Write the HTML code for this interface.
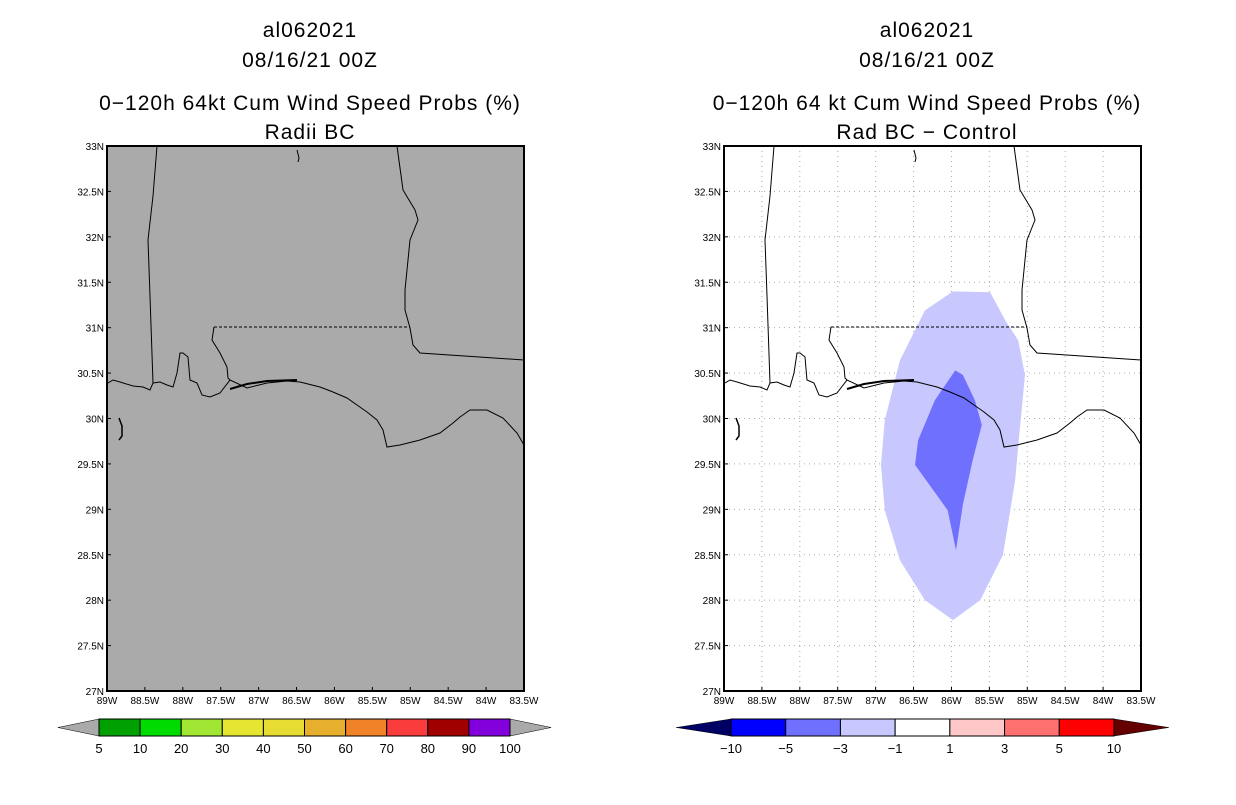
<!DOCTYPE html>
<html><head><meta charset="utf-8"><style>
body{margin:0;background:#fff;}
svg text{font-family:"Liberation Sans",sans-serif;fill:#000;}
</style></head><body>
<svg id="s" width="1236" height="800" xmlns="http://www.w3.org/2000/svg"></svg>
<script>
// Map extent
const lonMin=-89, lonMax=-83.5, latMin=27, latMax=33;
const lonTicks=['89W','88.5W','88W','87.5W','87W','86.5W','86W','85.5W','85W','84.5W','84W','83.5W'];
const latTicks=['27N','27.5N','28N','28.5N','29N','29.5N','30N','30.5N','31N','31.5N','32N','32.5N','33N'];
// Difference field contours (lon, lat)
const lightLon=[-85.98,-85.49,-85.29,-85.12,-85.03,-85.10,-85.16,-85.32,-85.62,-85.98,-86.35,-86.68,-86.88,-86.93,-86.88,-86.68,-86.35];
const lightLat=[31.40,31.39,31.08,30.86,30.48,29.87,29.32,28.50,28.00,27.78,28.00,28.44,28.99,29.49,29.98,30.64,31.19];
const darkLon=[-85.95,-85.85,-85.69,-85.60,-85.72,-85.85,-85.94,-86.05,-86.48,-86.44,-86.22];
const darkLat=[30.53,30.48,30.20,29.93,29.54,29.05,28.55,28.99,29.49,29.76,30.20];
// Colorbars
const leftLevels=['5','10','20','30','40','50','60','70','80','90','100'];
const leftColors=['#00a000','#00dc00','#a0e632','#e6e632','#e6dc32','#e6af2d','#f08228','#fa3c3c','#a00000','#8200dc'];
const rightLevels=['\u221210','\u22125','\u22123','\u22121','1','3','5','10'];
const rightColors=['#0000ff','#7070ff','#c8c8ff','#ffffff','#ffc8c8','#ff7070','#ff0000'];

const NS='http://www.w3.org/2000/svg';
const S=document.getElementById('s');
function mk(tag,attrs,parent){const e=document.createElementNS(NS,tag);for(const k in attrs)e.setAttribute(k,attrs[k]);(parent||S).appendChild(e);return e;}
const PW=417, PH=545, PY=146;
function X(x0,lon){return x0+(lon-lonMin)/(lonMax-lonMin)*PW;}
function Y(lat){return PY+(latMax-lat)/(latMax-latMin)*PH;}

// geography in pixel offsets relative to plot origin (x0=107,y0=146)
const coast=[[1,237],[6,234],[13,236],[26,240],[36,241],[43,244],[46,237],[53,236],[60,239],[66,241],[70,227],[73,207],[76,207],[81,211],[83,234],[90,237],[95,249],[103,251],[113,247],[123,234],[140,242],[160,237],[180,235],[193,236],[213,241],[226,246],[240,252],[250,259],[260,266],[270,274],[276,284],[280,301],[293,299],[313,294],[333,287],[346,277],[353,271],[363,264],[380,264],[396,272],[410,287],[417,299]];
const msBorder=[[50,0],[46,50],[41,94],[43,150],[46,237]];
const gaBorder=[[290,0],[296,44],[308,64],[311,74],[303,94],[298,144],[298,164],[303,182],[306,199],[313,207],[417,214]];
const flWest=[[107,181],[105,194],[113,207],[120,221],[121,232],[123,234]];
const dashed=[[107,181],[303,181]];
const island=[[123,243],[140,238],[160,235],[190,234]];
const arc=[[12,272],[15,280],[15,290],[12,294]];
const river=[[190,4],[192,12],[191,16]];

function panel(x0,cx,title3,title4,gray,grid,pre){
  const g=mk('g',{});
  
  
  const t=[['al062021',37],['08/16/21 00Z',67],[title3,110],[title4,139]];
  t.forEach((tt,i)=>{const e=mk('text',{x:cx,y:tt[1],'text-anchor':'middle','font-size':21,'letter-spacing':'1'},g);e.textContent=tt[0];
    });
  const bg=mk('rect',{x:x0,y:PY,width:PW,height:PH,fill:gray?'#aaaaaa':'#fff'},g);
  
  if(grid){
    for(let i=1;i<lonTicks.length-1;i++){const x=X(x0,lonMin+i*0.5);const l=mk('line',{x1:x,x2:x,y1:PY,y2:PY+PH,stroke:'#aaa','stroke-dasharray':'1,4'},g);}
    for(let i=1;i<latTicks.length-1;i++){const y=Y(latMin+i*0.5);const l=mk('line',{x1:x0,x2:x0+PW,y1:y,y2:y,stroke:'#aaa','stroke-dasharray':'1,4'},g);}
  }
  if(pre==='right'){
    const p1=mk('polygon',{points:lightLon.map((v,i)=>X(x0,v)+','+Y(lightLat[i])).join(' '),fill:'#c8c8ff'},g);
    
    const p2=mk('polygon',{points:darkLon.map((v,i)=>X(x0,v)+','+Y(darkLat[i])).join(' '),fill:'#7070ff'},g);
    
  }
  const geo=mk('g',{fill:'none',stroke:'#000','stroke-width':1},g);
  
  const pl=(pts,extra)=>mk('polyline',Object.assign({points:pts.map(p=>(x0+p[0])+','+(PY+p[1])).join(' ')},extra||{}),geo);
  pl(coast);pl(msBorder);pl(gaBorder);pl(flWest);pl(dashed,{'stroke-dasharray':'3,2'});pl(island,{'stroke-width':2});pl(arc,{'stroke-width':1.5});pl(river);
  const fr=mk('rect',{x:x0,y:PY,width:PW,height:PH,fill:'none',stroke:'#000','stroke-width':2},g);
  
  lonTicks.forEach((lb,i)=>{const x=X(x0,lonMin+i*0.5);mk('line',{x1:x,x2:x,y1:PY+PH,y2:PY+PH-4,stroke:'#000'},g);
    const e=mk('text',{x:x,y:704,'text-anchor':'middle','font-size':10},g);e.textContent=lb;
    });
  latTicks.forEach((lb,i)=>{const y=Y(latMin+i*0.5);mk('line',{x1:x0,x2:x0+4,y1:y,y2:y,stroke:'#000'},g);
    const e=mk('text',{x:x0-3,y:y+4,'text-anchor':'end','font-size':10},g);e.textContent=lb;
    });
}
panel(107,310,'0\u2212120h 64kt Cum Wind Speed Probs (%)','Radii BC',true,false,'left');
panel(724,927,'0\u2212120h 64 kt Cum Wind Speed Probs (%)','Rad BC \u2212 Control',false,true,'right');

function colorbar(xa,xb,colors,levels,lowTri,highTri,pre){
  const g=mk('g',{});
  
  const y0=719,y1=736,ym=727.5,w=(xb-xa)/colors.length,tw=w;
  mk('polygon',{points:`${xa},${y0} ${xa},${y1} ${xa-tw},${ym}`,fill:lowTri,stroke:'#000','stroke-width':0.5},g);
  mk('polygon',{points:`${xb},${y0} ${xb},${y1} ${xb+tw},${ym}`,fill:highTri,stroke:'#000','stroke-width':0.5},g);
  colors.forEach((c,i)=>{const r=mk('rect',{x:xa+i*w,y:y0,width:w,height:y1-y0,fill:c,stroke:'#000','stroke-width':1},g);
    });
  levels.forEach((lb,i)=>{const e=mk('text',{x:xa+i*w,y:753,'text-anchor':'middle','font-size':13},g);e.textContent=lb;
    });
}
colorbar(99,510,leftColors,leftLevels,'#aaaaaa','#aaaaaa','left');
colorbar(731,1114,rightColors,rightLevels,'#000064','#640000','right');
</script>
</body></html>
